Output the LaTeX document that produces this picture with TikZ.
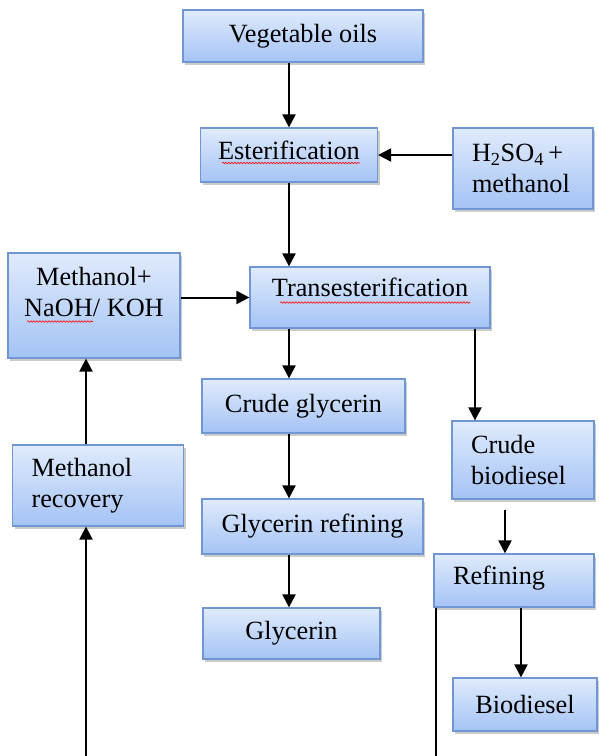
\documentclass[tikz,border=0pt]{standalone}
\usepackage{fontspec}
\setmainfont{Liberation Serif}
\usetikzlibrary{arrows.meta,shadows,decorations.pathmorphing}
\definecolor{bordbleu}{RGB}{112,150,212}
\definecolor{bleuclair}{RGB}{224,235,252}
\definecolor{bleufonce}{RGB}{164,195,245}

\begin{document}
\begin{tikzpicture}[x=1pt,y=-1pt,font=\fontsize{26.3}{31}\selectfont]
%etape : boite en degrade bleu avec ombre portee
\tikzset{etape/.style={rectangle,draw=bordbleu,line width=1.2pt,top color=bleuclair,bottom color=bleufonce,
  drop shadow={shadow xshift=2pt,shadow yshift=-2.5pt,fill=black!40},inner sep=0pt,align=center},
  gauche/.style={align=left,inner xsep=19pt,text width=#1},
  fleche/.style={line width=2pt,-{Triangle[length=13pt,width=13pt]}},
  souligne/.style={red,line width=0.6pt,decorate,decoration={snake,amplitude=0.8pt,segment length=3pt}}}
\useasboundingbox (0,0) rectangle (598,756);
\node[etape,minimum width=240pt,minimum height=52pt] (huile) at (303,36) {Vegetable oils};
\node[etape,minimum width=177pt,minimum height=54pt,text depth=9pt] (ester) at (289,155) {Esterification};
\node[etape,gauche=102pt,minimum width=140pt,minimum height=81pt] (acide) at (523,168.5) {H\textsubscript{2}SO\textsubscript{4}\,+\\methanol};
\node[etape,minimum width=172pt,minimum height=105pt,text depth=27pt] (catal) at (94,305.5) {Methanol+\\NaOH/ KOH};
\node[etape,minimum width=240pt,minimum height=61pt,text depth=20pt] (trans) at (370,297.5) {Transesterification};
\node[etape,minimum width=203pt,minimum height=54pt] (glybrute) at (303.5,406) {Crude glycerin};
\node[etape,gauche=133pt,minimum width=171pt,minimum height=81pt] (recup) at (98,485.5) {Methanol\\recovery};
\node[etape,gauche=104pt,minimum width=142pt,minimum height=78pt] (biobrut) at (523,460) {Crude\\biodiesel};
\node[etape,minimum width=221pt,minimum height=55pt] (rafglyc) at (312.5,526.5) {Glycerin refining};
\node[etape,gauche=122pt,minimum width=160pt,minimum height=53pt,text depth=10pt] (raff) at (514,580.5) {Refining};
\node[etape,minimum width=177pt,minimum height=51pt] (glyc) at (291.5,633.5) {Glycerin};
\node[etape,minimum width=144pt,minimum height=53pt] (bio) at (525,704.5) {Biodiesel};
%soulignements du correcteur
\draw[souligne] ([xshift=-67pt,yshift=-8pt]ester.center) -- ([xshift=71pt,yshift=-8pt]ester.center);
\draw[souligne] ([xshift=-90pt,yshift=-5pt]trans.center) -- ([xshift=100pt,yshift=-5pt]trans.center);
\draw[souligne] ([xshift=-67pt,yshift=-16pt]catal.center) -- ([xshift=-1pt,yshift=-16pt]catal.center);
%points auxiliaires
\coordinate (t1) at ([xshift=105pt]trans.south);
\coordinate (b1) at ([xshift=-18pt,yshift=-10pt]biobrut.south);
\coordinate (r1) at ([xshift=7pt]raff.south);
\coordinate (r2) at ([xshift=3pt]raff.south west);
\coordinate (m1) at ([xshift=-12pt]recup.north);
\coordinate (bas1) at (86,756);
\coordinate (bas2) at (437,756);
%fleches
\draw[fleche] (huile.south -| ester.north) -- (ester.north);
\draw[fleche] (acide.west |- ester.east) -- (ester.east);
\draw[fleche] (ester.south) -- (ester.south |- trans.north);
\draw[fleche] (catal.east |- trans.west) -- (trans.west);
\draw[fleche] (trans.south -| ester.south) -- (ester.south |- glybrute.north);
\draw[fleche] (t1) -- (t1 |- biobrut.north);
\draw[fleche] (glybrute.south -| ester.south) -- (ester.south |- rafglyc.north);
\draw[fleche] (rafglyc.south -| ester.south) -- (ester.south |- glyc.north);
\draw[fleche] (b1) -- (b1 |- raff.north);
\draw[fleche] (r1) -- (r1 |- bio.north);
\draw[fleche] (m1) -- (m1 |- catal.south);
\draw[fleche] (bas1) -- (bas1 |- recup.south);
\draw[line width=2pt] (r2) -- (r2 |- bas2);
\end{tikzpicture}
\end{document}
